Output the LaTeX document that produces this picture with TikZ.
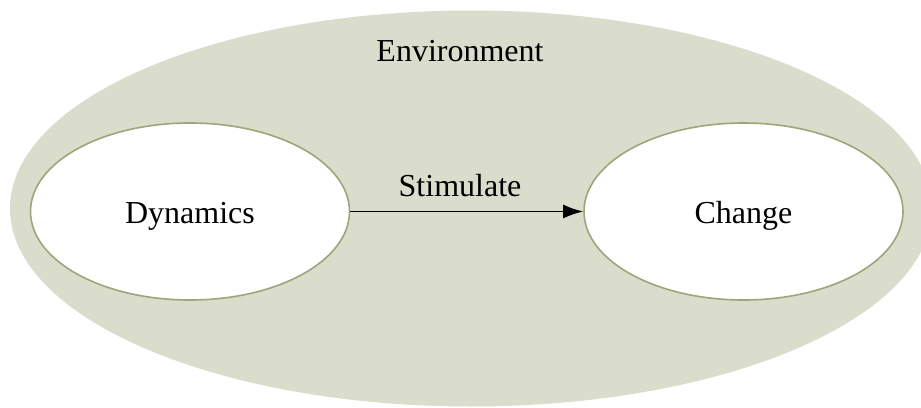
\documentclass[tikz,border=0pt]{standalone}
\usepackage{fontspec}
\setmainfont{Liberation Serif}
\usetikzlibrary{shapes.geometric,arrows.meta}
\definecolor{envfill}{HTML}{DADDCB}
\definecolor{rimgreen}{HTML}{9CA67A}
\tikzset{
  envshape/.style={ellipse, fill=envfill, draw=none, minimum width=922pt, minimum height=396pt, inner sep=0pt},
  stage/.style={ellipse, fill=white, draw=rimgreen, line width=1.6pt, minimum width=319pt, minimum height=177pt, inner sep=0pt, font=\fontsize{32}{38}\selectfont},
  lbl/.style={font=\fontsize{32}{38}\selectfont, inner sep=0pt, anchor=base},
  flow/.style={draw=black, line width=1.8pt, -{Latex[length=20pt,width=14pt]}}
}
\begin{document}
\begin{tikzpicture}[x=1pt,y=-1pt]
  \useasboundingbox (0,0) rectangle (921,407);
  \clip (0,0) rectangle (921,407);
  % surrounding environment
  \node[envshape] (env) at (471,208.5) {};
  \node[lbl] (envlabel) at (460,61) {Environment};
  % the two states
  \node[stage] (dyn) at (190,211.5) {};
  \node[lbl] (dynlabel) at (190,223) {Dynamics};
  \node[stage] (chg) at (743.5,211.5) {};
  \node[lbl] (chglabel) at (743.5,223) {Change};
  % stimulus arrow
  \draw[flow] (dyn.east) -- (chg.west);
  \node[lbl] (stim) at (460,196) {Stimulate};
\end{tikzpicture}
\end{document}
